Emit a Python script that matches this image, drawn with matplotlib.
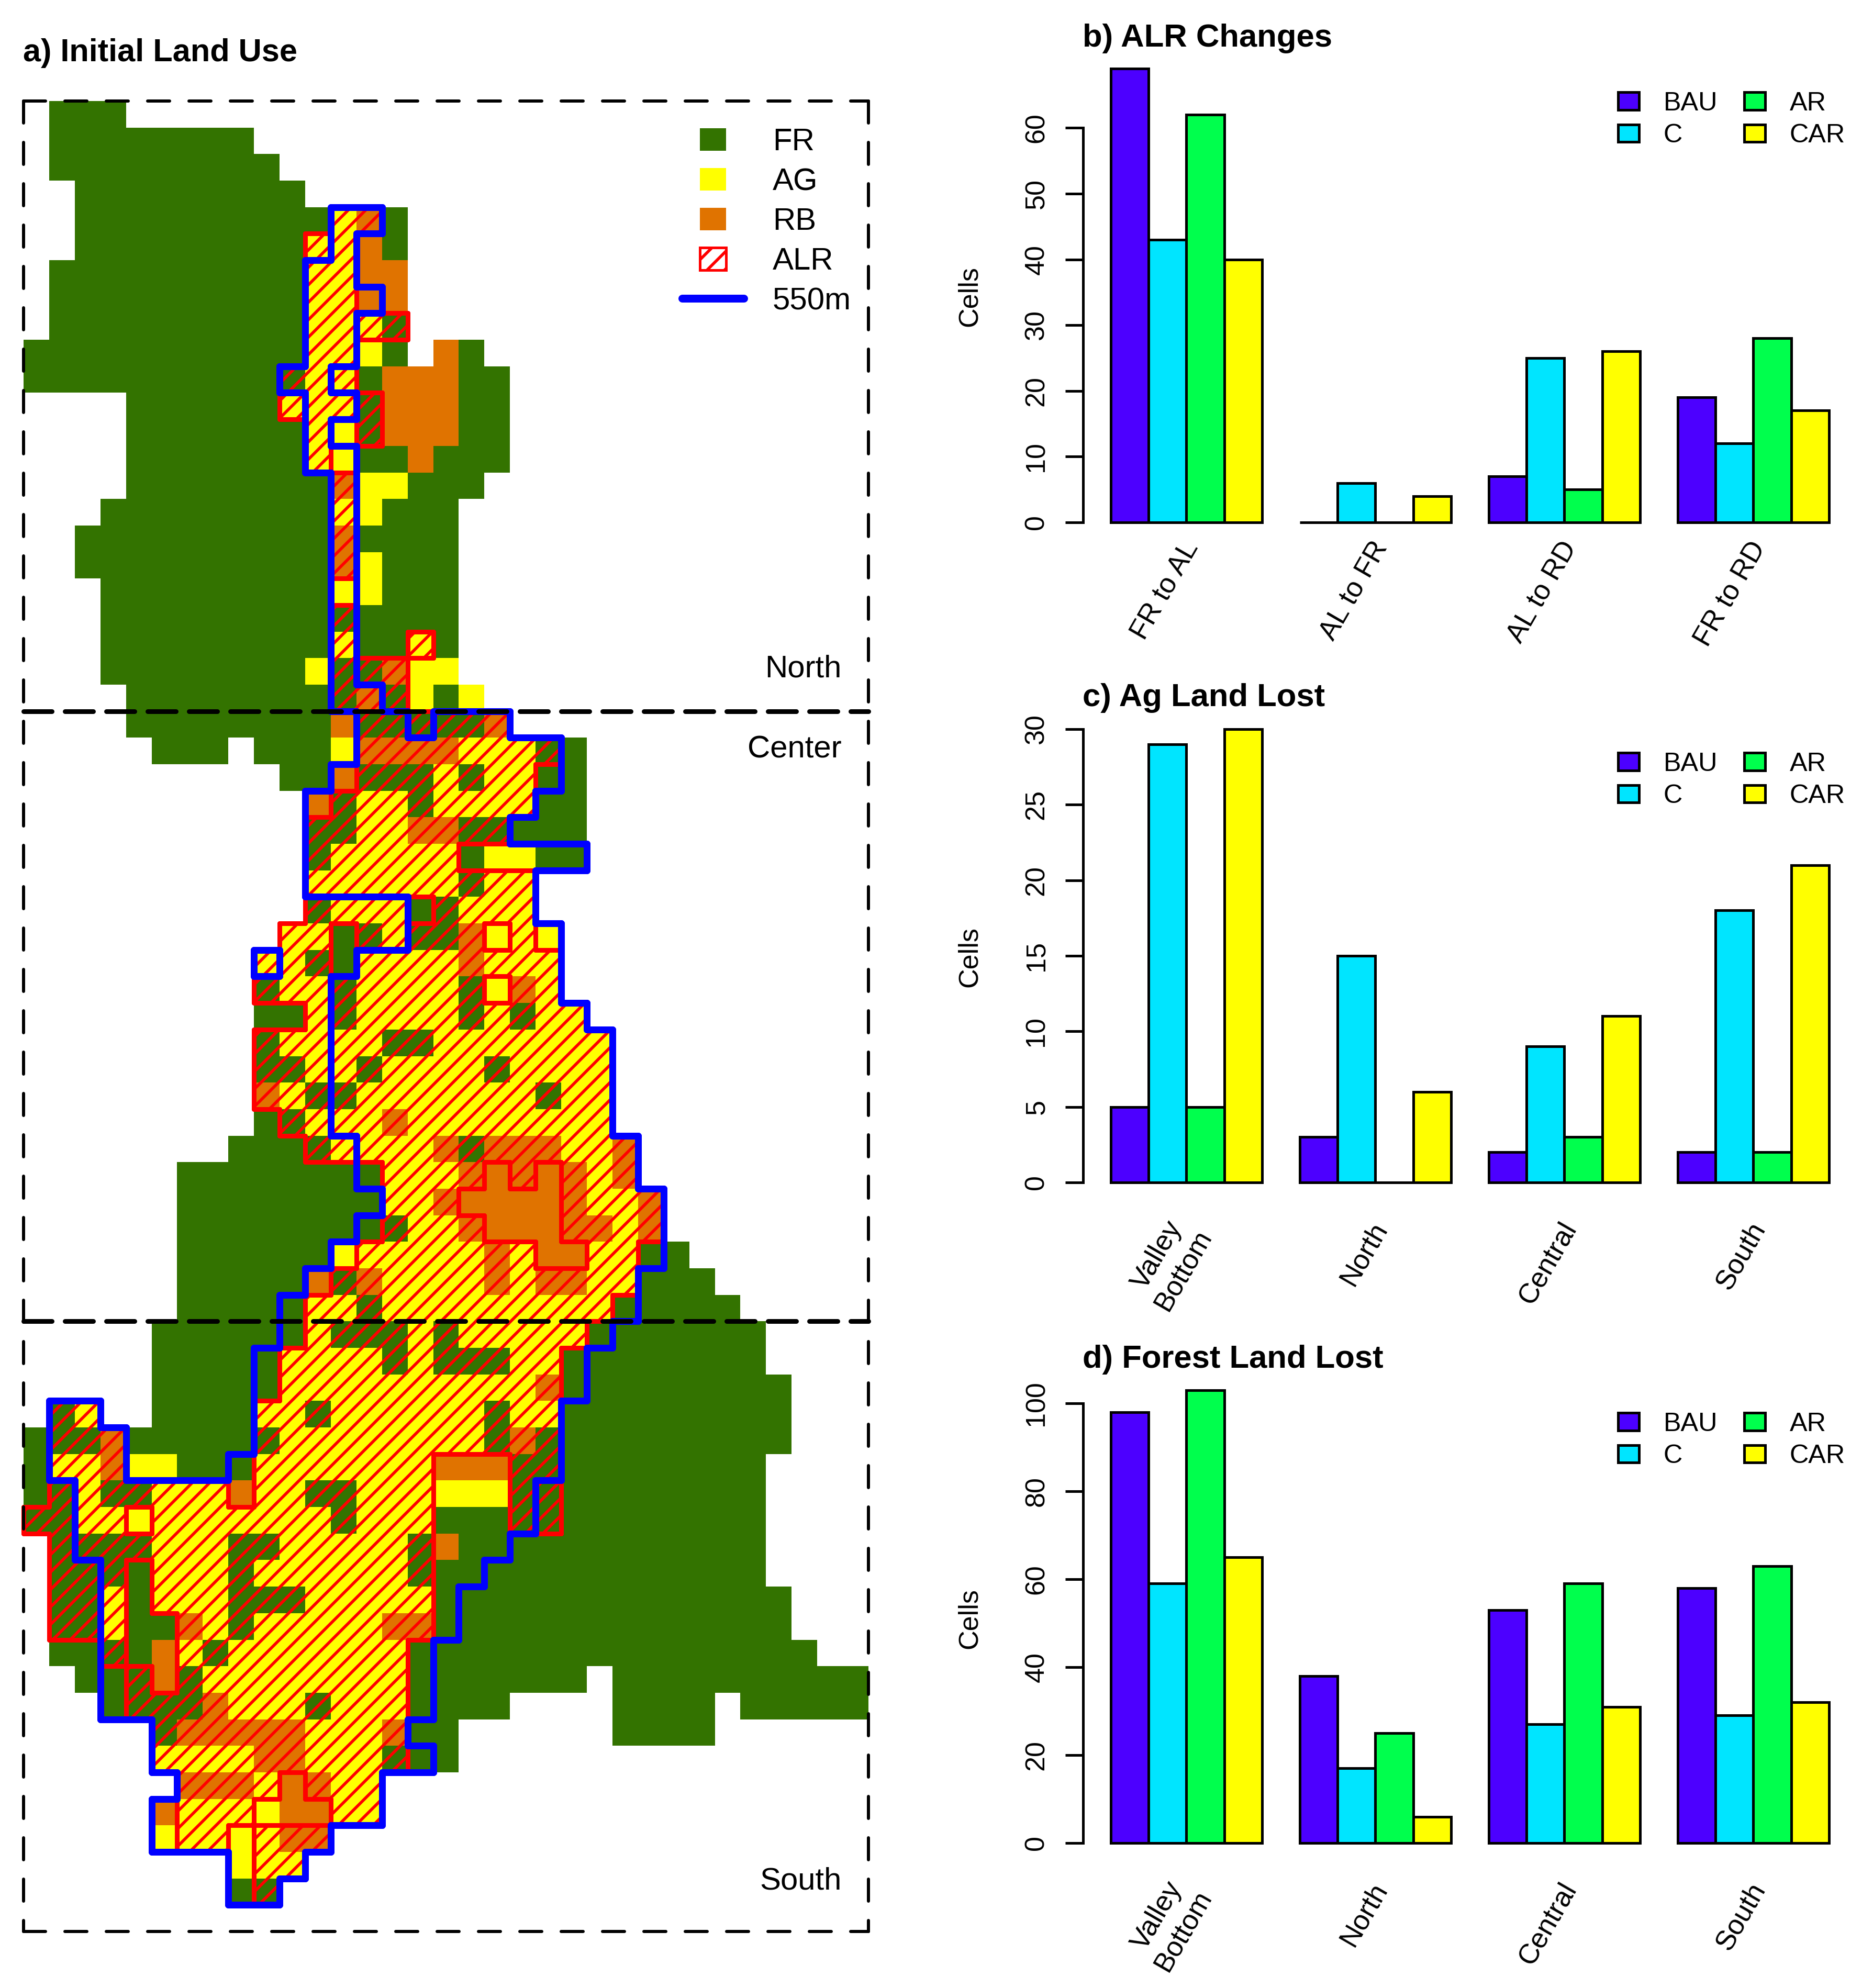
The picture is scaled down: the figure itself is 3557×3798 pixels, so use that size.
import re
import numpy as np
import matplotlib
matplotlib.use("Agg")
import matplotlib.pyplot as plt
from matplotlib.collections import LineCollection
from matplotlib.colors import ListedColormap
from matplotlib.legend_handler import HandlerPatch
from matplotlib.lines import Line2D
from matplotlib.patches import Patch, Rectangle

W, H = 3557, 3798
DPI = 300

plt.rcParams["font.family"] = ["Liberation Sans", "DejaVu Sans"]
plt.rcParams["hatch.linewidth"] = 1.35
plt.rcParams["lines.scale_dashes"] = False

# land use per map row: F forest, Y ag, O rb, lower case = inside the ALR
LAND_ROWS = [
    "F1-3", "F1-8", "F1-9", "F2-10",
    "F2-11 y12 o13 F14",
    "F2-10 y11-12 O13 F14",
    "F1-10 y11-12 O13-14",
    "F1-10 y11-12 O13-14",
    "F1-10 y11-13 f14",
    "F0-10 y11-12 Y13 F14 O16 F17",
    "F0-9 f10 y11-12 F13 O14-16 F17-18",
    "F4-9 y10-12 f13 O14-16 F17-18",
    "F4-10 y11 Y12 f13 O14-16 F17-18",
    "F4-10 y11 Y12 F13-14 O15 F16-18",
    "F4-11 o12 Y13-14 F15-17",
    "F3-11 y12 Y13 F14-16",
    "F2-11 o12 F13-16",
    "F2-11 o12 Y13 F14-16",
    "F3-11 Y12-13 F14-16",
    "F3-11 f12 F13-16",
    "F3-11 y12 F13-14 y15 F16",
    "F3-10 Y11 f12-13 o14 Y15-16",
    "F4-11 f12 o13 f14 Y15 F16 Y17",
    "F4-11 O12 f13-17 o18",
    "F5-7 F9-11 Y12 o13-16 y17-19 f20 F21",
    "F10-11 O12 f13-15 y16 f17 y18-19 F20-21",
    "O11 f12 y13-14 f15 y16-19 F20-21",
    "f11-12 y13-14 o15-16 f17-18 F19-21",
    "f11 y12-16 F17 Y18-19 F20-21",
    "y11-16 f17 y18-19",
    "f11 y12-14 F15 f16 y17-19",
    "y10-11 F12 f13 y14 f15-16 o17 Y18 y19 Y20",
    "y9-10 f11 F12 y13-16 o17 y18-20",
    "f9 y10-11 f12 y13-16 f17 Y18 o19 y20",
    "F9-10 y11 f12 y13-16 f17 y18 f19 y20-21",
    "f9 y10-13 f14-15 y16-22",
    "f9-10 y11-12 f13 y14-17 f18 y19-22",
    "o9 y10 f11-12 y13-19 f20 y21-22",
    "F9 f10 y11-13 o14 y15-22",
    "F8-10 f11 y12-15 o16 f17 o18-20 y21-22 o23",
    "F6-13 y14-16 o17 O18 o19 O20 o21 y22 o23",
    "F6-13 y14-15 o16 O17-20 o21 y22-23 o24",
    "F6-13 f14 y15-16 o17 O18-20 o21-22 y23 o24",
    "F6-11 Y12 y13-17 o18 y19 O20-21 y22-23 F24-25",
    "F6-10 O11 f12 o13 y14-17 o18 y19 o20-21 y22-23 F24-26",
    "F6-10 y11-12 f13 y14-22 F23-27",
    "F5-10 y11 f12-14 y15 f16 y17-21 F22-28",
    "F5-9 y10-13 f14 y15 f16-18 y19-20 F21-28",
    "F5-9 y10-19 o20 F21-29",
    "f1 y2 F5-8 y9-10 f11 y12-17 f18 y19-20 F21-29",
    "F0 f1-2 o3 F4-8 f9 y10-17 f18 o19 f20 F21-29",
    "F0 y1-2 o3 Y4-5 F6-8 y9-15 O16-18 f19-20 F21-28",
    "F0 f1 y2 f3-4 y5-7 O8 y9-10 f11-12 y13-15 Y16-18 f19-20 F21-28",
    "f0-1 y2-3 Y4 y5-11 f12 y13-15 F16-18 f19-20 F21-28",
    "f1-4 y5-7 f8-9 y10-14 f15 O16 F17-28",
    "f1-3 F4 y5-7 f8 y9-14 f15 F16-28",
    "f1-2 y3 F4 y5-7 f8-10 y11-15 F16-29",
    "f1-2 y3 F4-5 o6 y7 f8 y9-13 o14-15 F16-29",
    "F1-2 f3 F4 O5 y6 f7 y8-14 F15-30",
    "F2-3 f4 O5 f6 y7-14 F15-21 F23-32",
    "F3 f4-6 o7 y8-10 f11 y12-14 F15-18 F23-26 F28-32",
    "f5 o6-10 y11-13 o14 F15-16 F23-26",
    "y5-8 o9-10 y11-13 f14 F15-16",
    "o6-8 y9 O10 o11 y12-13",
    "O5 y6-8 Y9 O10-11 y12-13",
    "Y5 y6-7 Y8 y9 o10-11",
    "Y8 y9-10",
    "F8 f9",
    "",
]

# cells inside the 550m contour, same row order
ZONE_ROWS = [
    "", "", "", "",
    "Z12-13", "Z12", "Z11-12", "Z11-13", "Z11-12", "Z11-12", "Z10-11",
    "Z11-12", "Z11", "Z11-12",
    "Z12", "Z12", "Z12", "Z12", "Z12", "Z12", "Z12", "Z12",
    "Z12-13", "Z13-14 Z16-18", "Z13-20", "Z12-20", "Z11-19", "Z11-18",
    "Z11-21", "Z11-19", "Z15-19", "Z15-20", "Z9 Z13-20", "Z12-20", "Z12-21",
    "Z12-22", "Z12-22", "Z12-22", "Z12-22", "Z13-23", "Z13-23", "Z14-24",
    "Z13-24", "Z12-24", "Z11-23", "Z10-23", "Z10-22", "Z9-21", "Z9-21",
    "Z1-2 Z9-20", "Z1-3 Z9-20", "Z1-3 Z8-20", "Z2-19", "Z2-19", "Z2-18",
    "Z3-17", "Z3-16", "Z3-16", "Z3-15", "Z3-15", "Z3-15", "Z5-14", "Z5-15",
    "Z6-13", "Z5-13", "Z5-11", "Z8-10", "Z8-9", "",
]

SCENARIOS = ["BAU", "C", "AR", "CAR"]
BAR_COLORS = ["#4C00FF", "#00E5FF", "#00FF4D", "#FFFF00"]

ALR_GROUPS = ["FR to AL", "AL to FR", "AL to RD", "FR to RD"]
ALR_VALUES = [[69, 43, 62, 40], [0, 6, 0, 4], [7, 25, 5, 26], [19, 12, 28, 17]]
ALR_TICKS = [0, 10, 20, 30, 40, 50, 60]

REGIONS = ["Valley\nBottom", "North", "Central", "South"]
AG_VALUES = [[5, 29, 5, 30], [3, 15, 0, 6], [2, 9, 3, 11], [2, 18, 2, 21]]
AG_TICKS = [0, 5, 10, 15, 20, 25, 30]
FOREST_VALUES = [[98, 59, 103, 65], [38, 17, 25, 6], [53, 27, 59, 31], [58, 29, 63, 32]]
FOREST_TICKS = [0, 20, 40, 60, 80, 100]

FOREST_COL = "#337300"
AG_COL = "#FFFF00"
RB_COL = "#E07300"
CODES = {"F": 1, "Y": 2, "O": 3}


def pts(px):
    return px * 72.0 / DPI


def fx(x):
    return x / W


def fy(y):
    return 1 - y / H


def add_ax(left, top, right, bottom):
    return fig.add_axes([fx(left), fy(bottom), (right - left) / W, (bottom - top) / H])


def parse_rows(rows, ncol=33):
    # returns char grid from tokens like F1-3 or y12
    grid = np.full((len(rows), ncol), ".")
    for r, row in enumerate(rows):
        for tok in row.split():
            m = re.fullmatch(r"([A-Za-z])(\d+)(?:-(\d+))?", tok)
            a = int(m.group(2))
            b = int(m.group(3)) if m.group(3) else a
            grid[r, a:b + 1] = m.group(1)
    return grid


def mask_edges(mask):
    segs = []
    nr, nc = mask.shape
    for r in range(nr):
        for c in range(nc):
            if not mask[r, c]:
                continue
            if r == 0 or not mask[r - 1, c]:
                segs.append([(c, r), (c + 1, r)])
            if r == nr - 1 or not mask[r + 1, c]:
                segs.append([(c, r + 1), (c + 1, r + 1)])
            if c == 0 or not mask[r, c - 1]:
                segs.append([(c, r), (c, r + 1)])
            if c == nc - 1 or not mask[r, c + 1]:
                segs.append([(c + 1, r), (c + 1, r + 1)])
    return segs


def small_rect(w, h):
    def make(legend, orig_handle, xdescent, ydescent, width, height, fontsize):
        x = -xdescent + (width - pts(w)) / 2
        y = -ydescent + (height - pts(h)) / 2
        return Rectangle((x, y), pts(w), pts(h))
    return make


def draw_map(ax):
    land = parse_rows(LAND_ROWS)
    zone = parse_rows(ZONE_ROWS)
    codes = np.zeros(land.shape, dtype=int)
    for ch, val in CODES.items():
        codes[land == ch] = val
        codes[land == ch.lower()] = val
    cmap = ListedColormap(["white", FOREST_COL, AG_COL, RB_COL])
    ax.pcolormesh(np.arange(34), np.arange(land.shape[0] + 1), codes, cmap=cmap,
                  vmin=0, vmax=3, zorder=1)

    alr = np.char.islower(land)
    for r, c in zip(*np.nonzero(alr)):
        ax.add_patch(Rectangle((c, r), 1, 1, facecolor="none", edgecolor="red",
                               lw=0, hatch="///", zorder=2))
    ax.add_collection(LineCollection(mask_edges(alr), colors="red", linewidths=pts(9),
                                     capstyle="round", zorder=3, clip_on=False))
    ax.add_collection(LineCollection(mask_edges(zone == "Z"), colors="#0000FF", linewidths=pts(13),
                                     capstyle="round", zorder=4, clip_on=False))

    # sector frame
    dash = (0, (pts(42), pts(37)))
    for x0, y0, x1, y1 in [(0, 0, 33, 0), (0, 69, 33, 69), (0, 0, 0, 69), (33, 0, 33, 69)]:
        ax.plot([x0, x1], [y0, y1], color="black", lw=pts(6), ls=dash,
                dash_capstyle="round", zorder=5, clip_on=False)
    for r in [23, 46]:
        ax.plot([0, 33], [r, r], color="black", lw=pts(9), ls=(0, (pts(54), pts(25))),
                dash_capstyle="round", zorder=5, clip_on=False)

    ax.text(31.95, 21.4, "North", ha="right", va="center", fontsize=14.4, zorder=6)
    ax.text(31.95, 24.45, "Center", ha="right", va="center", fontsize=14.4, zorder=6)
    ax.text(31.95, 67.1, "South", ha="right", va="center", fontsize=14.4, zorder=6)

    ax.set_xlim(0, 33)
    ax.set_ylim(69, 0)
    ax.axis("off")

    handles = [
        Patch(facecolor=FOREST_COL, label="FR"),
        Patch(facecolor=AG_COL, label="AG"),
        Patch(facecolor=RB_COL, label="RB"),
        Patch(facecolor="white", edgecolor="red", hatch="///", lw=1.2, label="ALR"),
        Line2D([0], [0], color="#0000FF", lw=pts(15), solid_capstyle="round", label="550m"),
    ]
    ax.legend(handles=handles, loc="upper left", bbox_to_anchor=(fx(1303), fy(244)),
              bbox_transform=fig.transFigure, frameon=False, fontsize=14.4,
              borderpad=0, borderaxespad=0, labelspacing=0.35,
              handlelength=pts(118) / 14.4, handletextpad=pts(55) / 14.4,
              handler_map={Patch: HandlerPatch(patch_func=small_rect(50, 43))})


def draw_bars(ax, groups, values, ticks, ymax, label_drop):
    x_left = 1
    for g, vals in enumerate(values):
        for s, v in enumerate(vals):
            ax.bar(x_left + s, v, width=1, align="edge", color=BAR_COLORS[s],
                   edgecolor="black", linewidth=pts(5), clip_on=False, zorder=3)
        ax.annotate(groups[g], xy=(x_left + 2, 0), xytext=(pts(11), -pts(label_drop)),
                    textcoords="offset points", rotation=60, rotation_mode="anchor",
                    ha="right", va="center", multialignment="center", fontsize=12.8,
                    annotation_clip=False)
        x_left += 5
    ax.set_xlim(1 - (2122 - 2069) / 72.2, 1 + (3530 - 2122) / 72.2)
    ax.set_ylim(0, ymax)
    ax.set_xticks([])
    ax.set_yticks(ticks)
    ax.tick_params(axis="y", length=pts(34), width=pts(5), pad=pts(30), labelsize=12.5)
    for t in ax.get_yticklabels():
        t.set_rotation(90)
        t.set_va("center")
    for side in ["top", "right", "bottom"]:
        ax.spines[side].set_visible(False)
    ax.spines["left"].set_bounds(ticks[0], ticks[-1])
    ax.spines["left"].set_linewidth(pts(5))
    ax.patch.set_alpha(0)


def bar_legend(ax, row1_y):
    handles = [Patch(facecolor=c, edgecolor="black", lw=pts(5), label=n)
               for c, n in zip(BAR_COLORS, SCENARIOS)]
    fs = 12.1
    ax.legend(handles=handles, loc="upper left", ncol=2, bbox_to_anchor=(fx(3091), fy(row1_y - 22)),
              bbox_transform=fig.transFigure, frameon=False, fontsize=fs,
              borderpad=0, borderaxespad=0, labelspacing=0.3,
              handlelength=pts(40) / fs, handleheight=pts(33) / fs,
              handletextpad=pts(47) / fs, columnspacing=pts(50) / fs)


fig = plt.figure(figsize=(W / DPI, H / DPI), dpi=DPI, facecolor="white")

ax_map = add_ax(45, 193, 1659, 3690)
draw_map(ax_map)
fig.text(fx(44), fy(102), "a) Initial Land Use", fontsize=14.7, fontweight="bold", va="center")

ax_b = add_ax(2069, 998 - 69 * 12.56, 3530, 998)
draw_bars(ax_b, ALR_GROUPS, ALR_VALUES, ALR_TICKS, 69, 40)
bar_legend(ax_b, 197)
fig.text(fx(2068), fy(73), "b) ALR Changes", fontsize=14.8, fontweight="bold", va="center")
fig.text(fx(1852), fy(566), "Cells", fontsize=12.5, rotation=90, ha="center", va="center")

ax_c = add_ax(2069, 1393, 3530, 2259)
draw_bars(ax_c, REGIONS, AG_VALUES, AG_TICKS, 30, 80)
bar_legend(ax_c, 1459)
fig.text(fx(2068), fy(1334), "c) Ag Land Lost", fontsize=14.8, fontweight="bold", va="center")
fig.text(fx(1852), fy(1828), "Cells", fontsize=12.5, rotation=90, ha="center", va="center")

ax_d = add_ax(2069, 3521 - 103 * 8.4, 3530, 3521)
draw_bars(ax_d, REGIONS, FOREST_VALUES, FOREST_TICKS, 103, 80)
bar_legend(ax_d, 2720)
fig.text(fx(2068), fy(2597), "d) Forest Land Lost", fontsize=14.8, fontweight="bold", va="center")
fig.text(fx(1852), fy(3092), "Cells", fontsize=12.5, rotation=90, ha="center", va="center")

fig.savefig("out.png", dpi=DPI, facecolor="white")
